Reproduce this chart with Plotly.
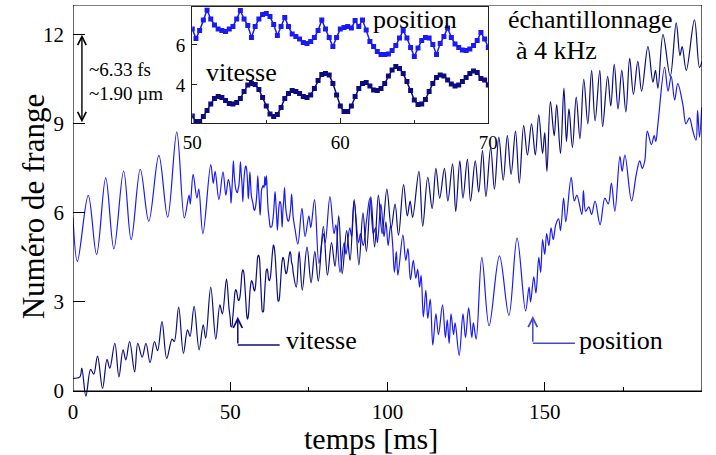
import plotly.graph_objects as go

# ---------------- data ----------------
# Main chart: turning points of each trace (time in ms, fringe number)
POS_A_T = [0, 1.4, 4.85, 7.5, 10.4, 13.0, 16.1, 18.5, 21.4, 24.1, 27.3, 30.1, 33.0, 35.4, 36.9, 37.3,
           38.2, 39.4, 40.0, 41.3, 43.8, 44.6, 45.2, 46.4, 47.7, 48.6, 49.4]
POS_A_Y = [5.85, 4.37, 6.59, 4.6, 7.18, 4.79, 7.41, 5.1, 7.47, 5.72, 7.94, 5.86, 8.73, 5.83, 6.6, 6.3,
           7.3, 6.5, 6.8, 5.3, 7.63, 7.0, 7.4, 6.45, 7.38, 6.6, 7.13]
POS_B_T = [70.6, 71.5, 72.8, 73.8, 75.0, 75.6, 76.8, 78.2, 79.6, 80.2, 81.7, 83.0, 83.6, 84.9, 86.2, 86.8,
           88.0, 88.6, 89.4, 90.8, 91.4, 92.3, 93.4, 94.4, 95.5, 96.2, 96.8, 97.9, 98.9, 99.5, 100.2,
           101.0, 101.6, 102.2, 102.8, 103.3, 104.9, 105.8, 106.5, 107.3, 108.2, 109.0, 109.6, 110.2,
           110.7, 111.4, 112.2, 112.8, 113.6, 114.4, 115.4, 116.2, 117.5, 118.4, 119.0, 119.6, 120.2,
           121.0, 121.5, 122.8, 124.0, 124.8, 125.8, 126.8, 127.3, 128.2, 130.0, 132.3, 135.6, 138.6,
           141.2, 143.9, 145.0, 145.5, 146.5, 147.2, 148.1, 148.7, 149.3, 150.0, 150.6, 151.3, 152.0,
           152.7, 153.5, 154.4, 155.0, 156.0, 156.7, 158.4, 159.4, 160.2, 161.8, 162.3, 163.0, 164.0,
           164.9, 166.0, 167.6, 169.1, 170.2, 171.2, 172.3, 173.9, 174.6, 175.5, 177.6, 179.1, 180.2,
           181.0, 181.8, 182.6, 183.9, 184.8, 185.3, 186.0, 188.1, 189.2, 190.2, 191.3, 192.3, 193.9,
           194.9, 196.0, 197.0, 198.1, 198.6, 199.2, 199.9]
POS_B_Y = [5.45, 4.95, 6.15, 5.2, 5.9, 5.5, 6.45, 4.3, 5.3, 5.0, 6.55, 5.3, 5.6, 4.0, 5.0, 4.6,
           5.5, 5.2, 6.4, 5.0, 5.3, 4.9, 5.8, 6.5, 5.3, 5.5, 5.0, 6.3, 5.2, 5.7, 4.9,
           5.6, 5.0, 4.0, 4.7, 3.9, 5.25, 4.4, 4.8, 3.75, 4.4, 3.8, 4.1, 3.5,
           3.9, 2.5, 3.4, 2.45, 3.1, 1.55, 2.6, 1.9, 2.9, 1.8, 2.4, 1.6, 2.6,
           1.9, 2.3, 1.2, 2.6, 1.8, 2.8, 1.8, 2.3, 1.75, 4.5, 2.2, 4.55, 2.55,
           5.15, 2.7, 3.5, 3.0, 3.85, 3.3, 4.5, 4.0, 5.1, 4.6, 5.3, 4.9, 5.5,
           5.1, 5.6, 5.8, 5.4, 6.5, 5.7, 7.2, 6.4, 6.6, 5.95, 6.75, 6.05, 6.2,
           5.95, 6.4, 5.6, 6.5, 6.3, 7.0, 6.05, 7.9, 7.4, 7.95, 6.4, 7.3, 7.75,
           7.5, 7.75, 8.75, 8.3, 8.6, 8.4, 9.0, 10.9, 10.1, 10.6, 9.8, 10.35, 9.65,
           9.0, 9.2, 8.8, 8.45, 9.45, 8.55, 9.55]

VIT_A_T = [0, 2.2, 2.8, 4.1, 5.6, 6.6, 7.8, 9.4, 10.8, 11.7, 13.3, 14.6, 15.9, 16.8, 18.0, 19.6, 20.6,
           22.0, 23.2, 24.5, 25.9, 26.9, 28.3, 29.8, 31.5, 32.2, 33.6, 35.1, 36.4, 37.2, 38.5, 40.1,
           41.4, 42.2, 43.8, 45.4, 46.7, 47.5, 48.8, 49.6]
VIT_A_Y = [0.43, 0.48, 0.77, -0.17, 0.73, 0.57, 1.18, 0.09, 1.07, 0.77, 1.61, 0.48, 1.39, 1.05, 1.67,
           0.65, 1.61, 1.14, 1.61, 0.96, 1.67, 1.36, 2.34, 1.1, 1.75, 1.67, 2.83, 1.27, 2.06, 1.84,
           2.85, 1.39, 2.23, 1.78, 3.5, 1.75, 2.9, 2.6, 3.77, 2.8]
VIT_B_T = [71.0, 71.9, 72.9, 74.4, 75.7, 76.9, 78.0, 79.6, 80.9, 82.2, 83.3, 84.5, 85.6, 87.0, 88.1,
           89.4, 90.9, 92.2, 93.3, 94.7, 95.9, 97.1, 98.3, 99.8, 101.2, 102.4, 103.5, 105.1, 106.3,
           107.2, 108.0, 110.0, 111.2, 112.8, 114.2, 115.4, 116.6, 118.1, 119.2, 120.7, 121.7, 123.0,
           124.0, 125.4, 126.4, 127.9, 129.0, 130.2, 131.3, 132.8, 134.0, 135.4, 136.8, 138.1, 139.3,
           140.7, 141.9, 143.3, 144.5, 145.8, 147.0, 148.1, 149.3, 150.0, 150.7, 151.8, 153.0, 153.8,
           155.0, 156.1, 156.9, 157.7, 158.8, 160.0, 161.2, 162.4, 163.7, 164.9, 166.0, 167.5, 168.4,
           170.0, 171.0, 172.1, 173.3, 174.5, 175.8, 177.0, 178.2, 179.6, 180.8, 182.8, 184.4, 185.2,
           186.0, 187.6, 189.9, 191.8, 193.0, 193.7, 195.0, 197.6, 199.2, 200.0]
VIT_B_Y = [3.5, 4.7, 3.4, 4.85, 3.65, 4.7, 3.7, 5.55, 3.9, 5.0, 4.2, 5.9, 3.95, 5.4, 4.4,
           6.45, 4.25, 6.0, 4.7, 6.55, 4.85, 6.6, 5.3, 6.8, 5.5, 6.3, 5.25, 6.95, 5.9,
           6.4, 5.85, 7.4, 5.55, 7.2, 6.15, 7.5, 6.5, 7.5, 6.4, 7.65, 6.05, 7.75,
           6.5, 7.8, 6.4, 7.75, 6.7, 8.1, 6.55, 8.2, 6.8, 8.55, 7.1, 8.6, 7.3,
           8.75, 7.0, 8.95, 7.95, 9.0, 7.95, 9.3, 8.0, 8.7, 7.4, 9.75, 8.6, 9.65,
           8.0, 10.2, 8.4, 9.5, 8.2, 9.9, 8.5, 10.5, 9.0, 10.8, 9.1, 10.8, 8.9,
           10.6, 9.6, 11.0, 9.5, 10.8, 9.4, 11.2, 10.0, 11.1, 10.1, 11.6, 10.4, 10.8,
           10.2, 12.0, 10.6, 12.4, 11.3, 11.6, 10.8, 12.5, 10.9, 11.1]

# Inset: samples at 4 kHz between 50 and 70 ms
SAMPLE_START_MS = 50.0
SAMPLE_STEP_MS = 0.25
INSET_POS = [6.8, 6.33, 6.72, 7.25, 7.75, 7.3, 7.0, 6.8, 6.72, 6.68,
             6.8, 6.92, 7.3, 7.72, 7.3, 6.97, 6.38, 6.92, 7.3, 7.52,
             7.58, 7.42, 7.02, 6.47, 6.92, 7.38, 6.92, 6.55, 6.42, 6.3,
             6.13, 6.08, 6.18, 6.38, 6.72, 7.25, 6.8, 6.38, 5.92, 6.38,
             6.8, 6.88, 6.92, 6.85, 7.22, 6.92, 7.25, 6.75, 6.18, 5.92,
             5.68, 5.52, 5.52, 5.55, 5.72, 5.97, 6.35, 6.72, 6.35, 5.88,
             5.42, 5.85, 6.22, 6.38, 6.35, 6.02, 5.52, 6.08, 6.42, 6.85,
             6.38, 6.05, 5.88, 5.75, 5.72, 5.8, 5.97, 6.22, 6.63, 6.3, 5.88]
INSET_VIT = [2.45, 2.17, 2.17, 2.42, 2.72, 3.05, 3.33, 3.42, 3.37, 3.22,
             3.08, 3.05, 3.12, 3.33, 3.67, 4.0, 4.08, 4.03, 3.78, 3.38,
             2.95, 2.55, 2.42, 2.53, 2.88, 3.33, 3.58, 3.72, 3.68, 3.58,
             3.42, 3.37, 3.5, 3.83, 4.22, 4.53, 4.58, 4.5, 4.08, 3.5,
             2.95, 2.67, 2.67, 2.95, 3.42, 3.83, 4.08, 4.12, 3.95, 3.75,
             3.72, 3.83, 4.08, 4.45, 4.75, 4.92, 4.83, 4.58, 4.17, 3.72,
             3.25, 3.03, 3.05, 3.28, 3.67, 4.08, 4.38, 4.5, 4.45, 4.25,
             4.05, 3.95, 4.0, 4.17, 4.38, 4.58, 4.7, 4.62, 4.33, 4.25, 4.0]

X_TICKS = [0, 50, 100, 150, 200]
Y_TICKS = [0, 3, 6, 9, 12]
INSET_X_TICKS = [50, 60, 70]
INSET_Y_TICKS = [4, 6]

# ---------------- build ----------------
inset_t = [SAMPLE_START_MS + SAMPLE_STEP_MS * i for i in range(len(INSET_POS))]
pos_t = POS_A_T + inset_t + POS_B_T
pos_y = POS_A_Y + INSET_POS + POS_B_Y
vit_t = VIT_A_T + inset_t + VIT_B_T
vit_y = VIT_A_Y + INSET_VIT + VIT_B_Y

C_POS = "#1a1af5"
C_VIT = "#0c0c80"
C_POS_ARROW = "#4646d2"
FONT = "Liberation Serif"

fig = go.Figure()
fig.add_trace(go.Scatter(x=pos_t, y=pos_y, mode="lines", name="position",
                         line=dict(color=C_POS, width=1.2, shape="spline", smoothing=1.0),
                         xaxis="x", yaxis="y", showlegend=False))
fig.add_trace(go.Scatter(x=vit_t, y=vit_y, mode="lines", name="vitesse",
                         line=dict(color=C_VIT, width=1.2, shape="spline", smoothing=1.0),
                         xaxis="x", yaxis="y", showlegend=False))
fig.add_trace(go.Scatter(x=inset_t, y=INSET_POS, mode="lines+markers",
                         line=dict(color=C_POS, width=1.5),
                         marker=dict(symbol="square", size=5, color=C_POS),
                         xaxis="x2", yaxis="y2", showlegend=False))
fig.add_trace(go.Scatter(x=inset_t, y=INSET_VIT, mode="lines+markers",
                         line=dict(color=C_VIT, width=1.5),
                         marker=dict(symbol="square", size=5, color=C_VIT),
                         xaxis="x2", yaxis="y2", showlegend=False))

Y_MIN, Y_MAX = -0.3, 13.0
tickfont = dict(family=FONT, size=21, color="black")
insetfont = dict(family=FONT, size=19, color="black")

fig.update_layout(
    width=716, height=455,
    margin=dict(l=73, r=10, t=5, b=55),
    paper_bgcolor="white", plot_bgcolor="white",
    font=dict(family=FONT, color="black"),
    xaxis=dict(domain=[0, 1], range=[0, 200], anchor="free", position=(0 - Y_MIN) / (Y_MAX - Y_MIN),
               tickvals=X_TICKS, ticks="inside", ticklen=9, tickwidth=1, tickcolor="black",
               minor=dict(tick0=0, dtick=25, ticks="inside", ticklen=4, tickcolor="black"),
               showline=True, linecolor="black", linewidth=1.2, showgrid=False, zeroline=False,
               tickfont=tickfont, ticklabelstandoff=2),
    yaxis=dict(domain=[0, 1], range=[Y_MIN, Y_MAX], tickvals=Y_TICKS, ticks="inside", ticklen=12,
               tickwidth=1, tickcolor="black", showline=False, showgrid=False, zeroline=False,
               tickfont=tickfont, ticklabelstandoff=8),
    xaxis2=dict(domain=[0.1896, 0.6603], anchor="y2", range=[50, 70], tickvals=INSET_X_TICKS,
                ticks="inside", ticklen=5, tickcolor="#222",
                minor=dict(tick0=50, dtick=5, ticks="inside", ticklen=3, tickcolor="#222"),
                showline=True, mirror=True, linecolor="#222", linewidth=1.2,
                showgrid=False, zeroline=False, tickfont=insetfont, ticklabelstandoff=2),
    yaxis2=dict(domain=[0.7013, 0.9937], anchor="x2", range=[2.1, 7.875], tickvals=INSET_Y_TICKS,
                ticks="inside", ticklen=5, tickcolor="#222",
                showline=True, mirror=True, linecolor="#222", linewidth=1.2,
                showgrid=False, zeroline=False, tickfont=insetfont, ticklabelstandoff=2),
)

# frame of the main plot (from y = 0 to the top)
fig.add_shape(type="rect", xref="x", yref="y", x0=0, x1=200, y0=0, y1=Y_MAX,
              line=dict(color="black", width=1.2), layer="above")

# L-shaped pointer lines
fig.add_shape(type="line", xref="x", yref="y", x0=52.4, x1=65.7, y0=1.55, y1=1.55,
              line=dict(color=C_VIT, width=1.5))
fig.add_shape(type="line", xref="x", yref="y", x0=146.2, x1=159.6, y0=1.61, y1=1.61,
              line=dict(color=C_POS_ARROW, width=1.5))

ann = []
# axis titles
ann.append(dict(text="temps [ms]", xref="paper", yref="paper", x=0.474, y=-0.097,
                xanchor="center", yanchor="middle", showarrow=False, font=dict(size=30)))
ann.append(dict(text="Numéro de frange", xref="paper", yref="paper", x=-0.0632, y=0.491,
                xanchor="center", yanchor="middle", textangle=-90, showarrow=False, font=dict(size=31)))
# double arrow
ann.append(dict(x=2.84, y=12, ax=2.84, ay=9, xref="x", yref="y", axref="x", ayref="y", text="",
                showarrow=True, arrowhead=5, startarrowhead=5, arrowside="end+start",
                arrowwidth=1.4, arrowsize=1.2, startarrowsize=1.2, arrowcolor="black"))
ann.append(dict(text="~6.33 fs", x=4.4, y=10.82, xref="x", yref="y", xanchor="left",
                yanchor="middle", showarrow=False, font=dict(size=19)))
ann.append(dict(text="~1.90 µm", x=4.4, y=10.01, xref="x", yref="y", xanchor="left",
                yanchor="middle", showarrow=False, font=dict(size=19)))
# sampling note
ann.append(dict(text="échantillonnage", x=137.8, y=12.5, xref="x", yref="y", xanchor="left",
                yanchor="middle", showarrow=False, font=dict(size=26)))
ann.append(dict(text="à 4 kHz", x=140.3, y=11.46, xref="x", yref="y", xanchor="left",
                yanchor="middle", showarrow=False, font=dict(size=26)))
# pointers
ann.append(dict(x=52.4, y=2.5, ax=52.4, ay=1.55, xref="x", yref="y", axref="x", ayref="y", text="",
                showarrow=True, arrowhead=5, arrowwidth=1.5, arrowsize=1.2, arrowcolor=C_VIT))
ann.append(dict(text="vitesse", x=67.0, y=1.72, xref="x", yref="y", xanchor="left",
                yanchor="middle", showarrow=False, font=dict(size=26)))
ann.append(dict(x=146.2, y=2.53, ax=146.2, ay=1.61, xref="x", yref="y", axref="x", ayref="y", text="",
                showarrow=True, arrowhead=5, arrowwidth=1.5, arrowsize=1.2, arrowcolor=C_POS_ARROW))
ann.append(dict(text="position", x=160.3, y=1.72, xref="x", yref="y", xanchor="left",
                yanchor="middle", showarrow=False, font=dict(size=26)))
# inset labels
ann.append(dict(text="position", x=62.08, y=7.25, xref="x2", yref="y2", xanchor="left",
                yanchor="middle", showarrow=False, font=dict(size=26)))
ann.append(dict(text="vitesse", x=50.8, y=4.6, xref="x2", yref="y2", xanchor="left",
                yanchor="middle", showarrow=False, font=dict(size=26)))
fig.update_layout(annotations=ann)

# remove the page's default body margin so the figure sits at the window's top-left corner
fig.write_html("out.html", config={"displayModeBar": False},
               post_script="document.body.style.margin='0';document.body.style.overflow='hidden';")
